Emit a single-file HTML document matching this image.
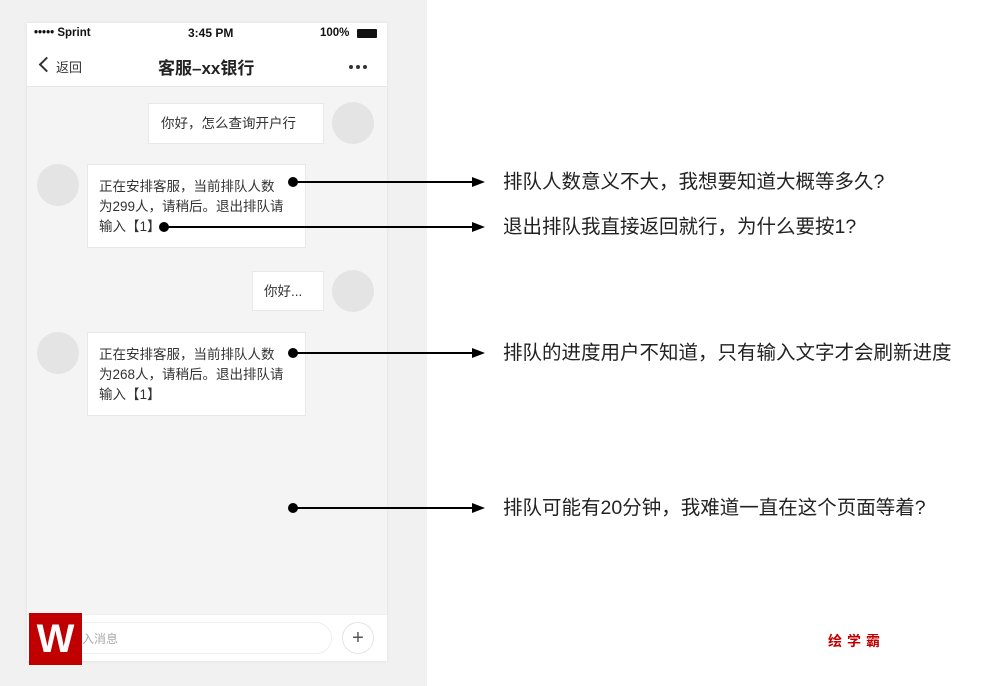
<!DOCTYPE html>
<html><head><meta charset="utf-8"><style>
*{margin:0;padding:0;box-sizing:border-box}
body{width:1002px;height:686px;position:relative;background:#fff;font-family:"Liberation Sans","Noto Sans CJK SC",sans-serif;overflow:hidden}
.a{position:absolute}
.bub{position:absolute;background:#fff;border:1px solid #e8e8e8;font-size:13.5px;color:#333;line-height:20px}
.av{position:absolute;width:42px;height:42px;border-radius:50%;background:#e4e4e4}
.note{position:absolute;left:503px;font-size:19.5px;color:#222;line-height:22px;white-space:nowrap}
</style></head><body>
<div class="a" style="left:0;top:0;width:427px;height:686px;background:#f1f1f1"></div>
<div class="a" style="left:27px;top:23px;width:360px;height:638px;background:#f4f4f4;box-shadow:0 0 3px #ddd"></div>
<div class="a" style="left:27px;top:23px;width:360px;height:64px;background:#fff;border-bottom:1px solid #e6e6e6"></div>
<div class="a" style="left:34px;top:27px;font-size:11.5px;font-weight:bold;color:#111">••••• Sprint</div>
<div class="a" style="left:188px;top:26px;font-size:12px;font-weight:bold;color:#111">3:45 PM</div>
<div class="a" style="left:320px;top:27px;font-size:11.5px;font-weight:bold;color:#111">100%</div>
<div class="a" style="left:357px;top:29px;width:20px;height:9px;background:#111;border-radius:1px"></div>
<div class="a" style="left:41px;top:59px;width:11px;height:11px;border-left:2px solid #333;border-bottom:2px solid #333;transform:rotate(45deg)"></div>
<div class="a" style="left:56px;top:57px;font-size:13px;color:#333">返回</div>
<div class="a" style="left:158px;top:54px;font-size:17px;font-weight:bold;color:#222">客服–xx银行</div>
<div class="a" style="left:349px;top:65px;width:4px;height:4px;border-radius:50%;background:#333;box-shadow:7px 0 #333,14px 0 #333"></div>

<div class="bub" style="left:148px;top:103px;width:176px;height:41px;padding:10px 0 0 12px">你好，怎么查询开户行</div>
<div class="av" style="left:332px;top:102px"></div>
<div class="av" style="left:37px;top:164px"></div>
<div class="bub" style="left:87px;top:164px;width:219px;height:84px;padding:12px 20px 0 11px">正在安排客服，当前排队人数为299人，请稍后。退出排队请输入【1】</div>
<div class="bub" style="left:252px;top:271px;width:72px;height:40px;padding:10px 0 0 11px">你好...</div>
<div class="av" style="left:332px;top:270px"></div>
<div class="av" style="left:37px;top:332px"></div>
<div class="bub" style="left:87px;top:332px;width:219px;height:84px;padding:12px 20px 0 11px">正在安排客服，当前排队人数为268人，请稍后。退出排队请输入【1】</div>

<div class="a" style="left:27px;top:614px;width:360px;height:47px;background:#fff;border-top:1px solid #eee"></div>
<div class="a" style="left:70px;top:622px;width:262px;height:32px;border:1px solid #eee;border-radius:16px;background:#fff"></div>
<div class="a" style="left:82px;top:630px;font-size:12px;color:#aaa">入消息</div>
<div class="a" style="left:342px;top:622px;width:32px;height:32px;border:1px solid #e5e5e5;border-radius:50%;text-align:center;font-size:20px;line-height:30px;color:#555">+</div>
<div class="a" style="left:29px;top:613px;width:53px;height:52px;background:#c00000;color:#fff;font-size:40px;font-weight:bold;text-align:center;line-height:52px">W</div>

<svg class="a" style="left:0;top:0" width="1002" height="686">
<g stroke="#000" stroke-width="2" fill="#000">
<circle cx="293" cy="182" r="4"/><line x1="293" y1="182" x2="474" y2="182"/><polygon points="472,177 485,182 472,187" stroke="none"/>
<circle cx="164" cy="227" r="4"/><line x1="164" y1="227" x2="474" y2="227"/><polygon points="472,222 485,227 472,232" stroke="none"/>
<circle cx="293" cy="353" r="4"/><line x1="293" y1="353" x2="474" y2="353"/><polygon points="472,348 485,353 472,358" stroke="none"/>
<circle cx="293" cy="508" r="4"/><line x1="293" y1="508" x2="474" y2="508"/><polygon points="472,503 485,508 472,513" stroke="none"/>
</g></svg>
<div class="note" style="top:171px">排队人数意义不大，我想要知道大概等多久?</div>
<div class="note" style="top:216px">退出排队我直接返回就行，为什么要按1?</div>
<div class="note" style="top:342px">排队的进度用户不知道，只有输入文字才会刷新进度</div>
<div class="note" style="top:497px">排队可能有20分钟，我难道一直在这个页面等着?</div>
<div class="a" style="left:828px;top:631px;font-size:14px;font-weight:bold;color:#c00000;letter-spacing:5px">绘学霸</div>
</body></html>
